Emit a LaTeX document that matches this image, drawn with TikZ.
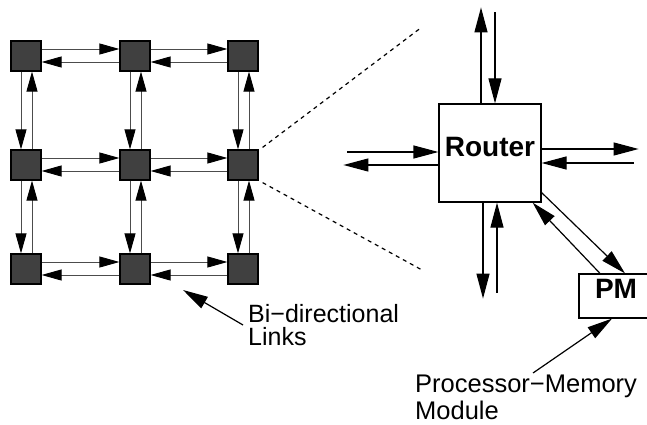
\documentclass[tikz,border=0pt]{standalone}
\usepackage{fontspec}
\setmainfont{Liberation Sans}
\usetikzlibrary{arrows.meta}
\usetikzlibrary{positioning}

\begin{document}
\begin{tikzpicture}[x=1pt,y=-1pt]
    \definecolor{cell_gray}{HTML}{404040}
    \tikzstyle{cell}=[draw, fill=cell_gray, line width=1.2pt,
                      minimum size=30pt, inner sep=0pt]
    \tikzstyle{link}=[draw=black!70, line width=0.9pt, ->,
                      >={Triangle[length=20pt,width=11pt,color=black]}]
    \tikzstyle{bus}=[line width=1.2pt, >={Triangle[length=25pt,width=13pt]}]
    \tikzstyle{box}=[draw, line width=1.2pt, font=\bfseries\fontsize{28}{28}\selectfont]
    \tikzstyle{note}=[inner sep=0pt, anchor=north west, align=left]
    \tikzstyle{cone}=[line width=1.2pt, dash pattern=on 4pt off 4pt]
    \useasboundingbox (0,0) rectangle (647,425);
    \clip (0,0) rectangle (647,425);

    % 3x3 mesh of nodes
    \foreach \r/\y in {1/56,2/165,3/269}
        \foreach \c/\x in {1/26,2/135,3/243}
            \node[cell] (n\r\c) at (\x,\y) {};

    % two links between each pair of neighbours
    \foreach \r in {1,2,3}
        \foreach \a/\b in {1/2,2/3} {
            \draw[link] ([yshift=7pt]n\r\a.east) -- ([yshift=7pt]n\r\b.west);
            \draw[link] ([yshift=-6pt]n\r\b.west) -- ([yshift=-6pt]n\r\a.east);
            \draw[link] ([xshift=-5pt]n\a\r.south) -- ([xshift=-5pt]n\b\r.north);
            \draw[link] ([xshift=6pt]n\b\r.north) -- ([xshift=6pt]n\a\r.south);
        }

    % blown-up node (PM box runs off the right edge)
    \node[box, minimum width=102pt, minimum height=98pt, text depth=12pt] (router) at (490,153) {Router};
    \node[box, minimum width=90pt, minimum height=44pt, text depth=15pt,
          text width=58pt, align=left] (pm) at (624,296) {PM};

    \coordinate (zoomtop) at (422,27);
    \coordinate (zoombot) at (422,270);
    \draw[cone] ([xshift=4pt,yshift=2pt]n23.north east) -- (zoomtop);
    \draw[cone] ([xshift=4pt,yshift=-2pt]n23.south east) -- (zoombot);

    \draw[bus,->] ([xshift=-9pt]router.north) -- ++(0,-96);
    \draw[bus,<-] ([xshift=5pt]router.north) -- ++(0,-91);
    \draw[bus,<-] ([yshift=1pt]router.west) -- ++(-91,0);
    \draw[bus,->] ([yshift=-12pt]router.west) -- ++(-95,0);
    \draw[bus,->] ([yshift=4pt]router.east) -- ++(97,0);
    \draw[bus,<-] ([yshift=-10pt]router.east) -- ++(92,0);
    \draw[bus,->] ([xshift=-7pt]router.south) -- ++(0,96);
    \draw[bus,<-] ([xshift=7pt]router.south) -- ++(0,90);
    \draw[bus,->] ([yshift=10pt]router.south east) -- ([xshift=1pt]pm.north);
    \draw[bus,->] ([xshift=-24pt]pm.north) -- ([xshift=-9pt]router.south east);

    % labels
    \node[note, font=\fontsize{25}{23.5}\selectfont] (linklabel) at (248,304) {Bi−directional\\Links};
    \node[note, font=\fontsize{25.5}{27}\selectfont] (pmlabel) at (415,375) {Processor−Memory\\Module};
    \coordinate (linkspot) at (183,290);
    \draw[bus,->] ([xshift=-5pt,yshift=-21pt]linklabel.north west) -- (linkspot);
    \draw[bus,->] ([xshift=118pt,yshift=2pt]pmlabel.north west) -- ([xshift=-12pt]pm.south);
\end{tikzpicture}
\end{document}
